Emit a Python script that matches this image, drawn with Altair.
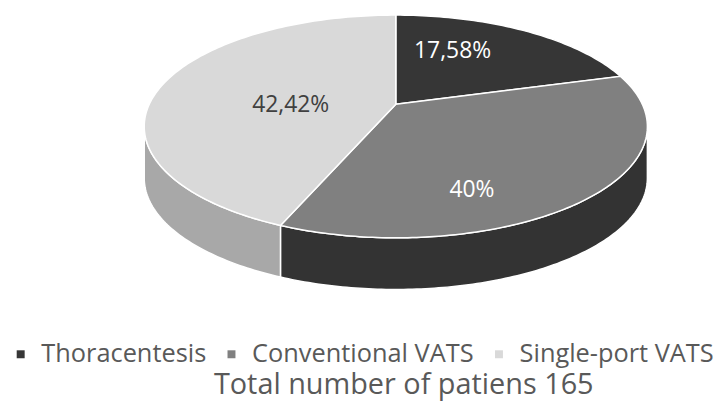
import altair as alt
import numpy as np
import pandas as pd

# ---- data ----
categories = ["Thoracentesis", "Conventional VATS", "Single-port VATS"]
percentages = [17.58, 40.0, 42.42]
value_labels = ["17,58%", "40%", "42,42%"]
title_text = "Total number of patiens 165"

# ---- styling ----
top_colors = ["#363636", "#808080", "#d9d9d9"]
side_colors = ["#2a2a2a", "#333333", "#a8a8a8"]
label_colors = ["#ffffff", "#ffffff", "#404040"]
DEPTH = 0.464      # thickness of the 3D pie (y units)
APEX_Y = 0.2       # perspective: the apex sits slightly above the ellipse centre
STEP = 1.0         # degrees per polygon vertex
LX, LY = 0.43, 0.8

top_rows, side_rows, label_rows = [], [], []
start = 0.0
for k, (cat, p) in enumerate(zip(categories, percentages)):
    end = start + p * 3.6
    n = max(int(round((end - start) / STEP)), 2)
    ang = np.radians(np.linspace(start, end, n + 1))
    pid = f"top{k}"
    top_rows.append(dict(pid=pid, i=0, x=0.0, y=APEX_Y, category=cat))
    for j, a in enumerate(ang):
        top_rows.append(dict(pid=pid, i=j + 1, x=float(np.sin(a)), y=float(np.cos(a)), category=cat))
    top_rows.append(dict(pid=pid, i=n + 2, x=0.0, y=APEX_Y, category=cat))
    # visible side wall (front half of the ellipse: 90..270 deg)
    s0, s1 = max(start, 90.0), min(end, 270.0)
    if s1 > s0:
        m = max(int(round((s1 - s0) / STEP)), 2)
        sa = np.radians(np.linspace(s0, s1, m + 1))
        sid = f"side{k}"
        idx = 0
        for a in sa:
            side_rows.append(dict(pid=sid, i=idx, x=float(np.sin(a)), y=float(np.cos(a)), col=side_colors[k]))
            idx += 1
        for a in sa[::-1]:
            side_rows.append(dict(pid=sid, i=idx, x=float(np.sin(a)), y=float(np.cos(a)) - DEPTH, col=side_colors[k]))
            idx += 1
        side_rows.append(dict(pid=sid, i=idx, x=float(np.sin(sa[0])), y=float(np.cos(sa[0])), col=side_colors[k]))
    mid = np.radians((start + end) / 2)
    label_rows.append(dict(category=cat, text=value_labels[k], x=LX * float(np.sin(mid)),
                           y=LY * float(np.cos(mid)), tcol=label_colors[k]))
    start = end

top_df = pd.DataFrame(top_rows)
side_df = pd.DataFrame(side_rows)
label_df = pd.DataFrame(label_rows)

W, H = 706, 292
xs = alt.Scale(domain=[-1.5415, 1.249], nice=False, zero=False)
ys = alt.Scale(domain=[-1.5536, 1.0536], nice=False, zero=False)

side = alt.Chart(side_df).mark_line(filled=True, stroke="white", strokeWidth=1.5, interpolate="linear").encode(
    x=alt.X("x:Q", scale=xs, axis=None),
    y=alt.Y("y:Q", scale=ys, axis=None),
    fill=alt.Fill("col:N", scale=None),
    detail="pid:N",
    order="i:Q",
)

top = alt.Chart(top_df).mark_line(filled=True, stroke="white", strokeWidth=1.5, interpolate="linear").encode(
    x=alt.X("x:Q", scale=xs, axis=None),
    y=alt.Y("y:Q", scale=ys, axis=None),
    fill=alt.Fill("category:N", scale=alt.Scale(domain=categories, range=top_colors),
                  legend=alt.Legend(title=None, orient="none", legendX=0, legendY=334,
                                    direction="horizontal", symbolType="square", symbolSize=64,
                                    symbolStrokeWidth=0, labelFont="Open Sans", labelFontSize=25.5,
                                    labelColor="#595959", labelLimit=400, labelOffset=8,
                                    columnPadding=12, padding=0)),
    detail="pid:N",
    order="i:Q",
)

labels = alt.Chart(label_df).mark_text(font="Open Sans", fontSize=23).encode(
    x=alt.X("x:Q", scale=xs, axis=None),
    y=alt.Y("y:Q", scale=ys, axis=None),
    text="text:N",
    color=alt.Color("tcol:N", scale=None),
)

chart = alt.layer(side, top, labels).properties(
    width=W, height=H, padding=0,
    title=alt.TitleParams(title_text, orient="bottom", anchor="middle", font="Open Sans",
                          fontSize=29, fontWeight="normal", color="#595959", offset=3, dx=45),
).configure_view(stroke=None)

chart.save("out.html", embed_options={"renderer": "svg", "actions": False})
